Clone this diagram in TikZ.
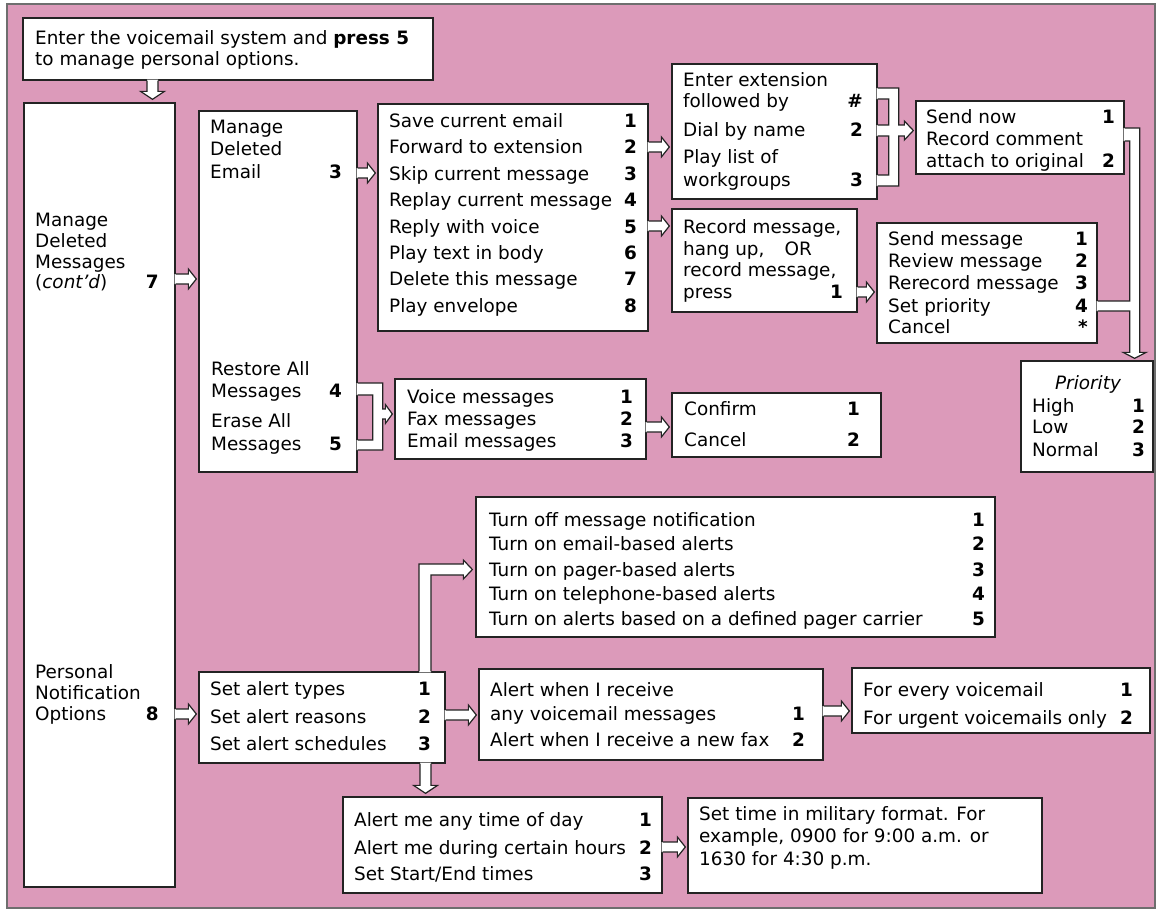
\documentclass[tikz,border=0pt]{standalone}
\usepackage{fontspec}
\setmainfont{DejaVu Sans}
\usetikzlibrary{fit,calc}

\definecolor{pinkbg}{RGB}{220,154,186}
\definecolor{edge}{RGB}{35,35,35}
\definecolor{framegray}{RGB}{110,110,110}

\newcommand{\basefont}{\fontsize{18.4pt}{22pt}\selectfont}

\tikzset{
  box/.style={draw=edge, line width=1.3pt, fill=white, inner sep=0pt},
  txt/.style={inner sep=0pt, anchor=base west, font=\basefont},
  num/.style={inner sep=0pt, anchor=base east, font=\basefont\bfseries},
  conn/.style={draw=edge, line width=1.2pt, line join=miter},
}

% a white menu panel given by its corners (px from the top left)
\newcommand{\panel}[5]{%
  \coordinate (#1-nw) at (#2,#3);
  \coordinate (#1-se) at (#4,#5);
  \node[box, fit=(#1-nw)(#1-se)] (#1) {};
}
% one line of menu text and its key
\newcommand{\putline}[4]{\node[txt] (#1) at (#2,#3) {#4};}
\newcommand{\putnum}[4]{\node[num] (#1) at (#2,#3) {#4};}

% hollow arrow from the east side of #1 to the west side of #2, at height #3
\newcommand{\hArrow}[3]{%
  \path[fill=white] let \p1=(#1.east), \p2=(#2.west) in
    (\x1-1pt,-#3pt+5pt) -- (\x2-10pt,-#3pt+5pt) -- (\x2-10pt,-#3pt+10pt)
    -- (\x2-2pt,-#3pt) -- (\x2-10pt,-#3pt-10pt) -- (\x2-10pt,-#3pt-5pt)
    -- (\x1-1pt,-#3pt-5pt) -- cycle;
  \draw[conn] let \p1=(#1.east), \p2=(#2.west) in
    (\x1,-#3pt+5pt) -- (\x2-10pt,-#3pt+5pt) -- (\x2-10pt,-#3pt+10pt)
    -- (\x2-2pt,-#3pt) -- (\x2-10pt,-#3pt-10pt) -- (\x2-10pt,-#3pt-5pt)
    -- (\x1,-#3pt-5pt);
}
% hollow arrow from the bottom of #1 down to the top of #2, along x = #3
\newcommand{\vArrow}[3]{%
  \path[fill=white] let \p1=(#1.south), \p2=(#2.north) in
    (#3pt-5.5pt,\y1+1pt) -- (#3pt-5.5pt,\y2+11pt) -- (#3pt-12pt,\y2+11pt)
    -- (#3pt,\y2+3pt) -- (#3pt+12pt,\y2+11pt) -- (#3pt+5.5pt,\y2+11pt)
    -- (#3pt+5.5pt,\y1+1pt) -- cycle;
  \draw[conn] let \p1=(#1.south), \p2=(#2.north) in
    (#3pt-5.5pt,\y1) -- (#3pt-5.5pt,\y2+11pt) -- (#3pt-12pt,\y2+11pt)
    -- (#3pt,\y2+3pt) -- (#3pt+12pt,\y2+11pt) -- (#3pt+5.5pt,\y2+11pt)
    -- (#3pt+5.5pt,\y1);
}

\begin{document}
\begin{tikzpicture}[x=1pt,y=-1pt]
\useasboundingbox (0,0) rectangle (1160,914);
\fill[white] (0,0) rectangle (1160,914);
\draw[framegray, line width=1.5pt, fill=pinkbg] (7,4) rectangle (1155,908);

% ---------- panels ----------
\panel{intro}{23}{18}{433}{80}
\panel{main}{24}{103}{175}{887}
\panel{mde}{199}{111}{357}{472}
\panel{save}{378}{104}{648}{331}
\panel{ext}{672}{64}{877}{199}
\panel{rec}{672}{209}{857}{312}
\panel{send}{916}{101}{1124}{174}
\panel{sendmsg}{877}{223}{1097}{343}
\panel{prio}{1021}{361}{1153}{472}
\panel{voice}{395}{379}{646}{459}
\panel{confirm}{672}{393}{881}{457}
\panel{turnoff}{476}{497}{995}{637}
\panel{setalert}{199}{672}{445}{763}
\panel{alertwhen}{479}{669}{823}{760}
\panel{forevery}{852}{668}{1150}{733}
\panel{alertme}{343}{797}{662}{893}
\panel{settime}{688}{798}{1042}{893}

% ---------- texts ----------
\putline{intro1}{35}{44}{Enter the voicemail system and \textbf{press 5}}
\putline{intro2}{35}{65}{to manage personal options.}

\putline{main1}{35}{226}{Manage}
\putline{main2}{35}{247}{Deleted}
\putline{main3}{35}{268}{Messages}
\putline{main4}{35}{288}{(\textit{cont'd})}
\putnum{main4n}{159}{288}{7}
\putline{main5}{35}{678}{Personal}
\putline{main6}{35}{699}{Notification}
\putline{main7}{35}{720}{Options}
\putnum{main7n}{159}{720}{8}

\putline{mde1}{210}{133}{Manage}
\putline{mde2}{210}{155}{Deleted}
\putline{mde3}{210}{178}{Email}
\putnum{mde3n}{342}{178}{3}
\putline{mde4}{211}{375}{Restore All}
\putline{mde5}{211}{397}{Messages}
\putnum{mde5n}{342}{397}{4}
\putline{mde6}{211}{427}{Erase All}
\putline{mde7}{211}{450}{Messages}
\putnum{mde7n}{342}{450}{5}

\putline{save1}{389}{127}{Save current email}      \putnum{save1n}{637}{127}{1}
\putline{save2}{389}{153}{Forward to extension}    \putnum{save2n}{637}{153}{2}
\putline{save3}{389}{180}{Skip current message}    \putnum{save3n}{637}{180}{3}
\putline{save4}{389}{206}{Replay current message}  \putnum{save4n}{637}{206}{4}
\putline{save5}{389}{233}{Reply with voice}        \putnum{save5n}{637}{233}{5}
\putline{save6}{389}{259}{Play text in body}       \putnum{save6n}{637}{259}{6}
\putline{save7}{389}{285}{Delete this message}     \putnum{save7n}{637}{285}{7}
\putline{save8}{389}{312}{Play envelope}           \putnum{save8n}{637}{312}{8}

\putline{ext1}{683}{86}{Enter extension}
\putline{ext2}{683}{107}{followed by}   \putnum{ext2n}{863}{107}{\#}
\putline{ext3}{683}{136}{Dial by name}  \putnum{ext3n}{863}{136}{2}
\putline{ext4}{683}{163}{Play list of}
\putline{ext5}{683}{186}{workgroups}    \putnum{ext5n}{863}{186}{3}

\putline{rec1}{683}{233}{Record message,}
\putline{rec2}{683}{255}{hang up,\hspace{20pt}OR}
\putline{rec3}{683}{276}{record message,}
\putline{rec4}{683}{298}{press}         \putnum{rec4n}{843}{298}{1}

\putline{send1}{926}{123}{Send now}            \putnum{send1n}{1115}{123}{1}
\putline{send2}{926}{145}{Record comment}
\putline{send3}{926}{167}{attach to original}  \putnum{send3n}{1115}{167}{2}

\putline{sm1}{888}{245}{Send message}      \putnum{sm1n}{1088}{245}{1}
\putline{sm2}{888}{267}{Review message}    \putnum{sm2n}{1088}{267}{2}
\putline{sm3}{888}{289}{Rerecord message}  \putnum{sm3n}{1088}{289}{3}
\putline{sm4}{888}{312}{Set priority}      \putnum{sm4n}{1088}{312}{4}
\putline{sm5}{888}{333}{Cancel}            \putnum{sm5n}{1088}{333}{*}

\node[txt, anchor=base] (prio0) at (1088,389) {\itshape Priority};
\putline{prio1}{1032}{412}{High}    \putnum{prio1n}{1145}{412}{1}
\putline{prio2}{1032}{433}{Low}     \putnum{prio2n}{1145}{433}{2}
\putline{prio3}{1032}{456}{Normal}  \putnum{prio3n}{1145}{456}{3}

\putline{voice1}{407}{403}{Voice messages}  \putnum{voice1n}{633}{403}{1}
\putline{voice2}{407}{425}{Fax messages}    \putnum{voice2n}{633}{425}{2}
\putline{voice3}{407}{447}{Email messages}  \putnum{voice3n}{633}{447}{3}

\putline{conf1}{684}{415}{Confirm}  \putnum{conf1n}{860}{415}{1}
\putline{conf2}{684}{446}{Cancel}   \putnum{conf2n}{860}{446}{2}

\putline{to1}{489}{526}{Turn off message notification}                   \putnum{to1n}{985}{526}{1}
\putline{to2}{489}{550}{Turn on email-based alerts}                      \putnum{to2n}{985}{550}{2}
\putline{to3}{489}{576}{Turn on pager-based alerts}                      \putnum{to3n}{985}{576}{3}
\putline{to4}{489}{600}{Turn on telephone-based alerts}                  \putnum{to4n}{985}{600}{4}
\putline{to5}{489}{625}{Turn on alerts based on a defined pager carrier} \putnum{to5n}{985}{625}{5}

\putline{sa1}{210}{695}{Set alert types}      \putnum{sa1n}{431}{695}{1}
\putline{sa2}{210}{723}{Set alert reasons}    \putnum{sa2n}{431}{723}{2}
\putline{sa3}{210}{750}{Set alert schedules}  \putnum{sa3n}{431}{750}{3}

\putline{aw1}{490}{696}{Alert when I receive}
\putline{aw2}{490}{720}{any voicemail messages}          \putnum{aw2n}{805}{720}{1}
\putline{aw3}{490}{746}{Alert when I receive a new fax}  \putnum{aw3n}{805}{746}{2}

\putline{fe1}{863}{696}{For every voicemail}         \putnum{fe1n}{1133}{696}{1}
\putline{fe2}{863}{724}{For urgent voicemails only}  \putnum{fe2n}{1133}{724}{2}

\putline{am1}{354}{826}{Alert me any time of day}      \putnum{am1n}{652}{826}{1}
\putline{am2}{354}{854}{Alert me during certain hours} \putnum{am2n}{652}{854}{2}
\putline{am3}{354}{880}{Set Start/End times}           \putnum{am3n}{652}{880}{3}

\putline{st1}{699}{820}{Set time in military format. For}
\putline{st2}{699}{842.5}{example, 0900 for 9:00 a.m. or}
\putline{st3}{699}{865}{1630 for 4:30 p.m.}

% ---------- straight connectors ----------
\vArrow{intro}{main}{152.5}
\hArrow{main}{mde}{279}
\hArrow{main}{setalert}{714}
\hArrow{mde}{save}{173}
\hArrow{save}{ext}{147}
\hArrow{save}{rec}{226}
\hArrow{rec}{sendmsg}{292}
\hArrow{voice}{confirm}{427}
\hArrow{setalert}{alertwhen}{715}
\hArrow{alertwhen}{forevery}{711}
\hArrow{alertme}{settime}{847}
\vArrow{setalert}{alertme}{425.5}

% ---------- joined connectors ----------
% extension choices -> send options
\path[fill=white] let \p1=(ext.east), \p2=(send.west) in
  (\x1-1pt,-88pt) -- (\x1+21pt,-88pt) -- (\x1+21pt,-125pt) -- (\x2-11pt,-125pt)
  -- (\x2-11pt,-121pt) -- (\x2-2pt,-130.5pt) -- (\x2-11pt,-140pt) -- (\x2-11pt,-136pt)
  -- (\x1+21pt,-136pt) -- (\x1+21pt,-186pt) -- (\x1-1pt,-186pt) -- (\x1-1pt,-175pt)
  -- (\x1+11pt,-175pt) -- (\x1+11pt,-136pt) -- (\x1-1pt,-136pt) -- (\x1-1pt,-125pt)
  -- (\x1+11pt,-125pt) -- (\x1+11pt,-99pt) -- (\x1-1pt,-99pt) -- cycle;
\draw[conn] let \p1=(ext.east), \p2=(send.west) in
  (\x1,-88pt) -- (\x1+21pt,-88pt) -- (\x1+21pt,-125pt) -- (\x2-11pt,-125pt)
  -- (\x2-11pt,-121pt) -- (\x2-2pt,-130.5pt) -- (\x2-11pt,-140pt) -- (\x2-11pt,-136pt)
  -- (\x1+21pt,-136pt) -- (\x1+21pt,-186pt) -- (\x1,-186pt)
  (\x1,-99pt) -- (\x1+11pt,-99pt) -- (\x1+11pt,-125pt) -- (\x1,-125pt)
  (\x1,-136pt) -- (\x1+11pt,-136pt) -- (\x1+11pt,-175pt) -- (\x1,-175pt);

% restore / erase -> message types
\path[fill=white] let \p1=(mde.east), \p2=(voice.west) in
  (\x1-1pt,-383pt) -- (\x1+25pt,-383pt) -- (\x1+25pt,-409pt) -- (\x2-9pt,-409pt)
  -- (\x2-9pt,-404.5pt) -- (\x2-2pt,-414pt) -- (\x2-9pt,-423.5pt) -- (\x2-9pt,-419pt)
  -- (\x1+25pt,-419pt) -- (\x1+25pt,-450pt) -- (\x1-1pt,-450pt) -- (\x1-1pt,-440pt)
  -- (\x1+15pt,-440pt) -- (\x1+15pt,-395pt) -- (\x1-1pt,-395pt) -- cycle;
\draw[conn] let \p1=(mde.east), \p2=(voice.west) in
  (\x1,-383pt) -- (\x1+25pt,-383pt) -- (\x1+25pt,-409pt) -- (\x2-9pt,-409pt)
  -- (\x2-9pt,-404.5pt) -- (\x2-2pt,-414pt) -- (\x2-9pt,-423.5pt) -- (\x2-9pt,-419pt)
  -- (\x1+25pt,-419pt) -- (\x1+25pt,-450pt) -- (\x1,-450pt)
  (\x1,-395pt) -- (\x1+15pt,-395pt) -- (\x1+15pt,-440pt) -- (\x1,-440pt);

% record comment / set priority -> priority
\path[fill=white] let \p1=(send.east), \p2=(sendmsg.east), \p3=(prio.north) in
  (\x1-1pt,-128pt) -- (\x1+15pt,-128pt) -- (\x1+15pt,\y3+8pt) -- (\x1+21.5pt,\y3+8pt)
  -- (\x1+10pt,\y3+2pt) -- (\x1-1.5pt,\y3+8pt) -- (\x1+5pt,\y3+8pt) -- (\x1+5pt,-311pt)
  -- (\x2-1pt,-311pt) -- (\x2-1pt,-301pt) -- (\x1+5pt,-301pt) -- (\x1+5pt,-141pt)
  -- (\x1-1pt,-141pt) -- cycle;
\draw[conn] let \p1=(send.east), \p2=(sendmsg.east), \p3=(prio.north) in
  (\x1,-128pt) -- (\x1+15pt,-128pt) -- (\x1+15pt,\y3+8pt) -- (\x1+21.5pt,\y3+8pt)
  -- (\x1+10pt,\y3+2pt) -- (\x1-1.5pt,\y3+8pt) -- (\x1+5pt,\y3+8pt) -- (\x1+5pt,-311pt)
  -- (\x2,-311pt)
  (\x2,-301pt) -- (\x1+5pt,-301pt) -- (\x1+5pt,-141pt) -- (\x1,-141pt);

% alert types -> notification list
\path[fill=white] let \p1=(setalert.north), \p2=(turnoff.west) in
  (419pt,\y1-1pt) -- (419pt,-564pt) -- (\x2-12pt,-564pt) -- (\x2-12pt,-560pt)
  -- (\x2-3pt,-569.5pt) -- (\x2-12pt,-579pt) -- (\x2-12pt,-575pt) -- (431pt,-575pt)
  -- (431pt,\y1-1pt) -- cycle;
\draw[conn] let \p1=(setalert.north), \p2=(turnoff.west) in
  (419pt,\y1) -- (419pt,-564pt) -- (\x2-12pt,-564pt) -- (\x2-12pt,-560pt)
  -- (\x2-3pt,-569.5pt) -- (\x2-12pt,-579pt) -- (\x2-12pt,-575pt) -- (431pt,-575pt)
  -- (431pt,\y1);
\end{tikzpicture}
\end{document}
